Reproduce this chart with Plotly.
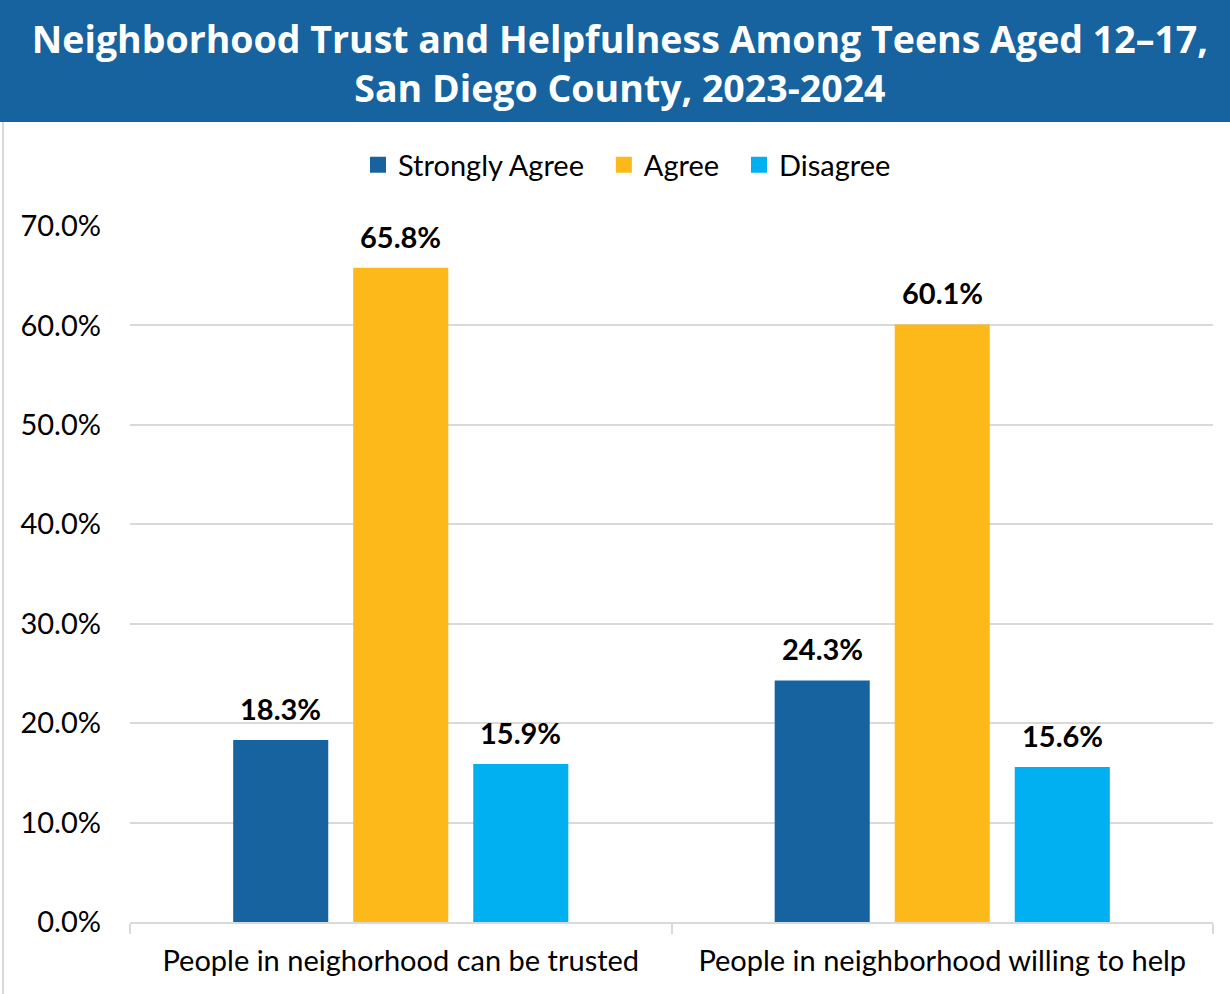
import plotly.graph_objects as go

categories = ["People in neighorhood can be trusted", "People in neighborhood willing to help"]
series_names = ["Strongly Agree", "Agree", "Disagree"]
strongly_agree = [18.3, 24.3]
agree = [65.8, 60.1]
disagree = [15.9, 15.6]
y_ticks = [0, 10, 20, 30, 40, 50, 60, 70]

colors = ["#1763A0", "#FDB81A", "#00B0F0"]
values = [strongly_agree, agree, disagree]

W, H = 1230, 994
M_L, M_R, M_T, M_B = 130, 17, 226, 72
plot_h = H - M_T - M_B
plot_w = W - M_L - M_R

body_font = "Lato, 'Open Sans', sans-serif"
FS = 29

fig = go.Figure()
annotations = []
n_series = len(series_names)
for i, (name, vals, col) in enumerate(zip(series_names, values, colors)):
    fig.add_trace(go.Bar(
        name=name,
        x=categories,
        y=vals,
        marker=dict(color=col, line=dict(width=0)),
        offsetgroup=str(i),
        showlegend=False,
    ))
    # square legend swatch; padding widens the gap to the next entry
    pad = "\u00a0\u00a0" if i < n_series - 1 else ""
    fig.add_trace(go.Scatter(
        name=name + pad, x=[categories[0]], y=[None], mode="markers",
        marker=dict(symbol="square", size=17, color=col),
        showlegend=True, hoverinfo="skip",
    ))

# value labels above each bar
offsets = [-1, 0, 1]
for name, vals, off in zip(series_names, values, offsets):
    for ci, v in enumerate(vals):
        annotations.append(dict(
            x=ci + off * 0.2218, y=v, xref="x", yref="y",
            text=f"<b>{v:.1f}%</b>", showarrow=False,
            yanchor="bottom", yshift=12,
            font=dict(family=body_font, size=FS, color="#000000"),
        ))

def py(pix):
    # pixel row -> paper y
    return (H - M_B - pix) / plot_h

def px(pix):
    return (pix - M_L) / plot_w

shapes = [
    # title banner
    dict(type="rect", xref="paper", yref="paper",
         x0=px(0), x1=px(W), y0=py(122), y1=py(0),
         fillcolor="#1763A0", line=dict(width=0), layer="below"),
    # left frame edge
    dict(type="line", xref="paper", yref="paper",
         x0=px(3), x1=px(3), y0=py(H), y1=py(122),
         line=dict(color="#D9D9D9", width=2)),
]

fig.update_layout(
    width=W, height=H,
    margin=dict(l=M_L, r=M_R, t=M_T, b=M_B, autoexpand=False),
    paper_bgcolor="white", plot_bgcolor="white",
    barmode="group", bargap=0.335, bargroupgap=0.208,
    shapes=shapes,
    annotations=annotations,
    title=dict(
        text="Neighborhood Trust and Helpfulness Among Teens Aged 12–17,<br>San Diego County, 2023-2024",
        x=0.504, xref="container", xanchor="center",
        y=1 - 53 / H, yanchor="middle",
        font=dict(family="'Open Sans', sans-serif", size=37.5, color="white", weight="bold"),
    ),
    legend=dict(
        orientation="h", x=px(627), xanchor="center", xref="paper",
        y=py(165), yanchor="middle",
        font=dict(family=body_font, size=FS, color="#000000"),
        traceorder="normal", itemwidth=30,
    ),
    xaxis=dict(
        type="category",
        showgrid=False, showline=True, linecolor="#D9D9D9", linewidth=2,
        ticks="outside", tickson="boundaries", ticklen=10, tickcolor="#D9D9D9", tickwidth=2,
        tickfont=dict(family=body_font, size=FS, color="#000000"),
        ticklabelstandoff=12,
    ),
    yaxis=dict(
        range=[0, 70], tickvals=y_ticks,
        ticktext=[f"{t:.1f}%" for t in y_ticks],
        showgrid=True, gridcolor="#D9D9D9", gridwidth=1.5,
        zeroline=False, showline=False,
        tickfont=dict(family=body_font, size=FS, color="#000000"),
        ticklabelstandoff=28,
    ),
)

fig.write_html("out.html")
